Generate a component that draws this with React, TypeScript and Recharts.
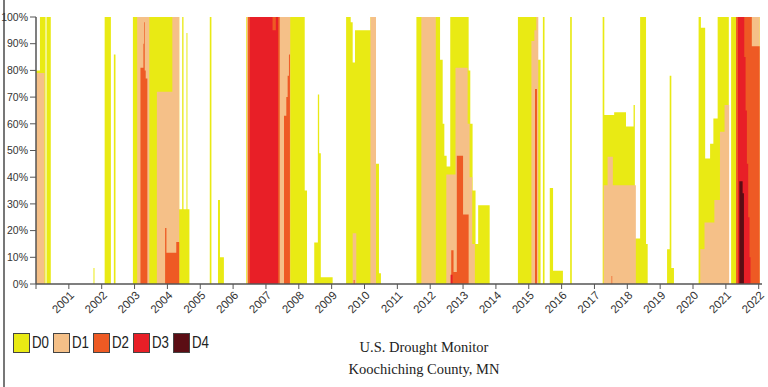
import { Area, AreaChart, XAxis, YAxis } from "recharts";

type Step = [number, number];

// week-start (decimal year) -> % of county area, each value holds until the next step
const D0_STEPS: Step[] = [
  [2000.0, 80], [2000.12, 100], [2000.29, 0], [2000.32, 100], [2000.45, 0],
  [2001.75, 6], [2001.78, 0],
  [2002.09, 100], [2002.28, 0], [2002.37, 86], [2002.42, 0],
  [2002.95, 100], [2004.36, 28], [2004.45, 100], [2004.49, 28], [2004.58, 94], [2004.61, 28], [2004.67, 0],
  [2005.29, 100], [2005.34, 0], [2005.54, 31.5], [2005.6, 10], [2005.72, 0],
  [2006.4, 100], [2008.18, 35], [2008.25, 0],
  [2008.47, 15.5], [2008.58, 71], [2008.62, 49], [2008.67, 2.5], [2009.03, 0],
  [2009.44, 100], [2009.58, 98], [2009.64, 83], [2009.71, 95], [2010.18, 100], [2010.35, 45], [2010.44, 4], [2010.5, 0],
  [2011.58, 100], [2012.3, 84], [2012.38, 60], [2012.43, 48], [2012.5, 44], [2012.61, 100],
  [2013.17, 80], [2013.22, 60], [2013.29, 35], [2013.38, 15], [2013.46, 29.5], [2013.81, 0],
  [2014.67, 100], [2015.28, 84], [2015.36, 0], [2015.43, 100], [2015.48, 0], [2015.64, 36], [2015.74, 5], [2016.04, 0],
  [2016.26, 100], [2016.31, 0],
  [2017.25, 100], [2017.3, 63.3], [2017.6, 64.3], [2017.96, 59], [2018.19, 67], [2018.23, 17], [2018.39, 100], [2018.57, 15], [2018.62, 0],
  [2019.21, 13], [2019.29, 78], [2019.34, 6], [2019.42, 0],
  [2020.17, 100], [2020.24, 96], [2020.37, 47], [2020.52, 52.5], [2020.62, 62], [2020.75, 100], [2021.09, 0], [2021.16, 100],
  [2022.03, 0],
];

const D1_STEPS: Step[] = [
  [2000.0, 79], [2000.26, 0],
  [2003.08, 100], [2003.45, 0], [2003.68, 72], [2004.15, 100], [2004.36, 0],
  [2006.42, 100], [2007.74, 0],
  [2009.64, 19], [2009.75, 0], [2010.18, 100], [2010.35, 0],
  [2011.73, 100], [2012.17, 0], [2012.49, 41], [2012.77, 81], [2013.14, 60], [2013.2, 40], [2013.28, 15], [2013.36, 0],
  [2015.08, 91], [2015.17, 95], [2015.23, 100], [2015.29, 0],
  [2017.28, 37], [2017.4, 47.7], [2017.56, 37], [2018.26, 0],
  [2020.22, 13], [2020.35, 23], [2020.65, 31.5], [2020.82, 57], [2020.96, 67], [2021.1, 0],
  [2021.31, 100], [2022.03, 0],
];

const D2_STEPS: Step[] = [
  [2003.18, 81], [2003.27, 90], [2003.29, 98], [2003.31, 80], [2003.34, 77], [2003.39, 0],
  [2003.93, 21], [2003.97, 11.7], [2004.27, 15.7], [2004.36, 0],
  [2006.45, 100], [2007.42, 0], [2007.55, 63], [2007.62, 70], [2007.66, 78], [2007.7, 86], [2007.73, 0],
  [2009.67, 1.5], [2009.7, 0],
  [2012.64, 12.6], [2012.71, 4.5], [2012.81, 48], [2013.0, 26], [2013.17, 0],
  [2015.19, 73], [2015.25, 0],
  [2017.52, 3], [2017.54, 0],
  [2021.31, 100], [2021.79, 89], [2022.03, 0],
];

const D3_STEPS: Step[] = [
  [2006.51, 100], [2007.2, 95], [2007.3, 100], [2007.37, 0],
  [2012.62, 3.5], [2012.68, 0],
  [2021.37, 100], [2021.56, 85], [2021.6, 65], [2021.64, 45], [2021.68, 25], [2021.72, 10], [2021.75, 0],
];

const D4_STEPS: Step[] = [[2021.41, 38.5], [2021.51, 34], [2021.55, 0]];

const LEVELS = ["D0", "D1", "D2", "D3", "D4"];
const LEVEL_COLORS = ["#e9ea14", "#f5c088", "#ee5a24", "#e81f27", "#5b0d14"];
const YEAR_TICKS = [
  2000, 2001, 2002, 2003, 2004, 2005, 2006, 2007, 2008, 2009, 2010, 2011,
  2012, 2013, 2014, 2015, 2016, 2017, 2018, 2019, 2020, 2021, 2022,
];
const PCT_TICKS = [0, 10, 20, 30, 40, 50, 60, 70, 80, 90, 100];

const ALL_STEPS = [D0_STEPS, D1_STEPS, D2_STEPS, D3_STEPS, D4_STEPS];

function valueAt(steps: Step[], t: number) {
  let v = 0;
  for (const [s, p] of steps) {
    if (s <= t + 1e-9) v = p;
    else break;
  }
  return v;
}

const times = Array.from(new Set(ALL_STEPS.flat().map((s) => s[0]))).sort((a, b) => a - b);
const rows = times.map((t) => {
  const row: Record<string, number> = { t };
  ALL_STEPS.forEach((steps, i) => {
    row[`d${i}`] = valueAt(steps, t);
  });
  return row;
});

const SANS = '"Liberation Sans", Arial, sans-serif';
const AXIS = "#555";

function YearTick({ x, y, payload }: any) {
  if (payload.value === 2000) return <g />;
  return (
    <g transform={`translate(${x + 6},${y + 5}) rotate(-45)`}>
      <text x={0} y={0} textAnchor="end" fontSize={11.5} fontFamily={SANS} fill="#333">
        {payload.value}
      </text>
    </g>
  );
}

export default function App() {
  return (
    <div style={{ position: "relative", width: 768, height: 387, background: "#fff" }}>
      <style>{"body{margin:0}"}</style>
      <div style={{ position: "absolute", left: 3, top: 0, width: 2, height: 387, background: "#777" }} />
      <AreaChart width={768} height={387} data={rows} margin={{ top: 17, right: 6, bottom: 0, left: 0 }}>
        <XAxis
          dataKey="t"
          type="number"
          domain={[2000, 2022.1]}
          ticks={YEAR_TICKS}
          interval={0}
          height={103}
          tick={<YearTick />}
          tickSize={5}
          axisLine={{ stroke: AXIS, strokeWidth: 1.5 }}
          tickLine={{ stroke: AXIS }}
        />
        <YAxis
          type="number"
          domain={[0, 100]}
          ticks={PCT_TICKS}
          width={36}
          tickSize={6}
          tickFormatter={(v) => `${v}%`}
          tick={{ fontSize: 10.5, fill: "#333", fontFamily: SANS }}
          axisLine={{ stroke: AXIS, strokeWidth: 1.5 }}
          tickLine={{ stroke: AXIS }}
        />
        {LEVELS.map((lv, i) => (
          <Area
            key={lv}
            type="stepAfter"
            dataKey={`d${i}`}
            name={lv}
            stroke="none"
            fill={LEVEL_COLORS[i]}
            fillOpacity={1}
            dot={false}
            activeDot={false}
            isAnimationActive={false}
          />
        ))}
      </AreaChart>
      {LEVELS.map((lv, i) => (
        <div key={lv} style={{ position: "absolute", left: 13 + 40 * i, top: 333, display: "flex", alignItems: "center" }}>
          <div style={{ width: 15, height: 18, background: LEVEL_COLORS[i], border: "1px solid #444" }} />
          <span
            style={{
              marginLeft: 2,
              fontFamily: SANS,
              fontSize: 17,
              color: "#222",
              display: "inline-block",
              transform: "scaleX(0.78)",
              transformOrigin: "left center",
            }}
          >
            {lv}
          </span>
        </div>
      ))}
      <div
        style={{
          position: "absolute",
          left: 324,
          width: 200,
          top: 336,
          textAlign: "center",
          fontFamily: '"Liberation Serif", "Times New Roman", serif',
          fontSize: 14.5,
          lineHeight: "22px",
          color: "#222",
        }}
      >
        <div>U.S. Drought Monitor</div>
        <div>Koochiching County, MN</div>
      </div>
    </div>
  );
}
